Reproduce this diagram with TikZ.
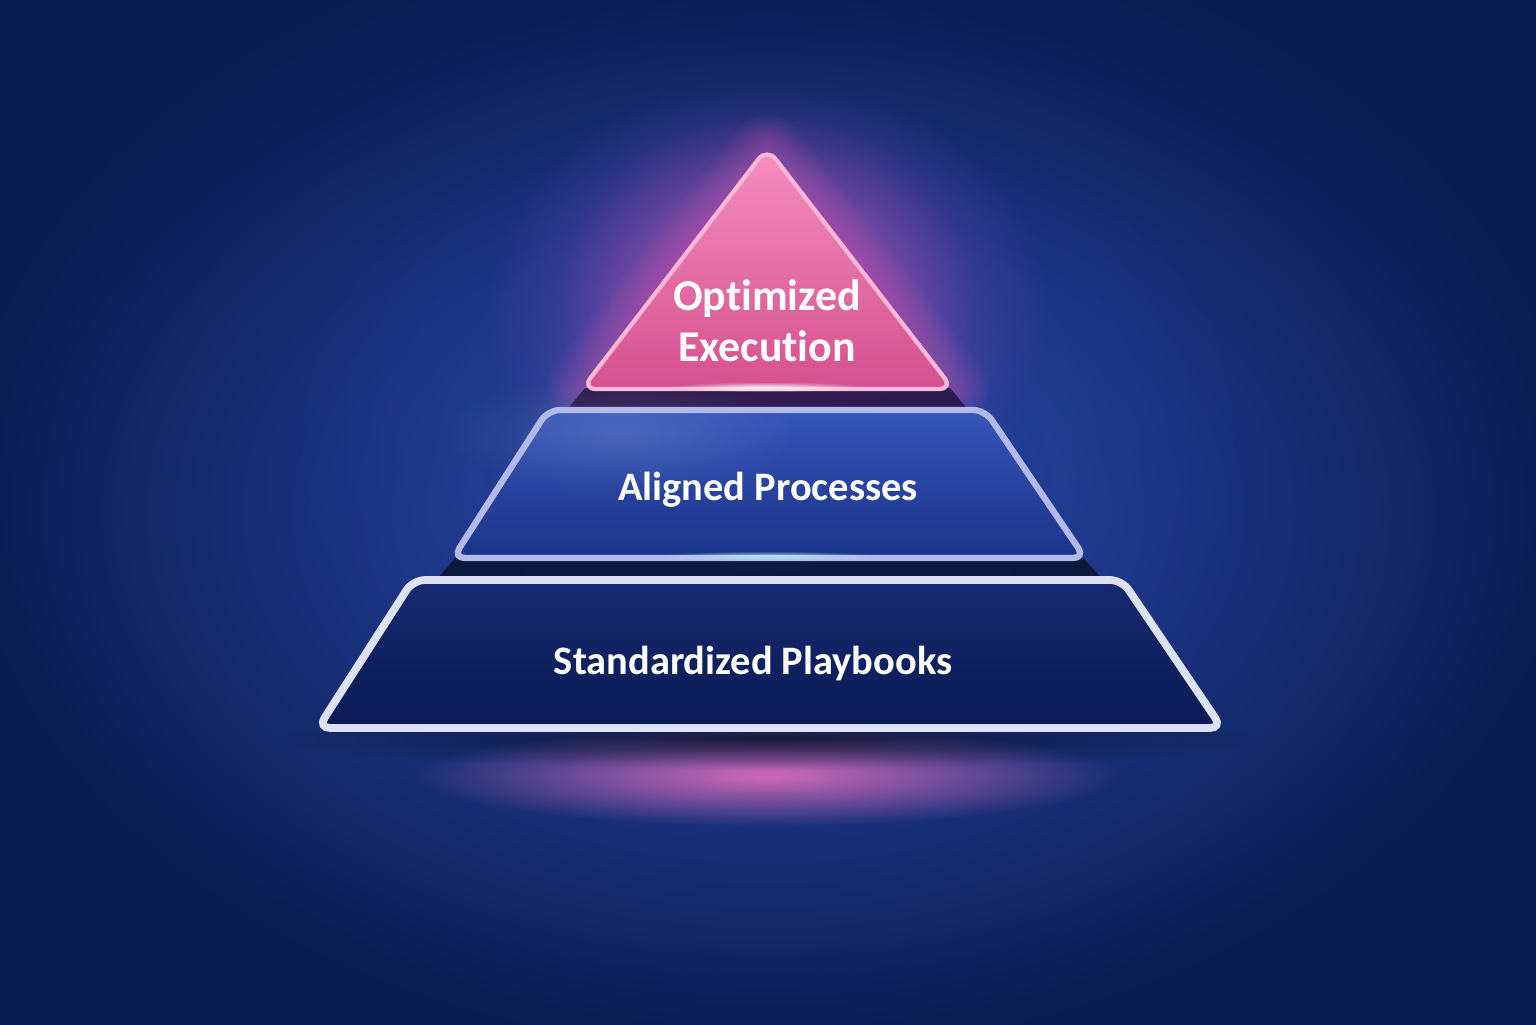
\documentclass[tikz,border=0pt]{standalone}
\usepackage{fontspec}
\setmainfont{Carlito}[Ligatures=NoCommon]
\usetikzlibrary{fadings}

\definecolor{bgInner}{HTML}{2C4BAE}
\definecolor{bgOuter}{HTML}{0A1D52}
\definecolor{bgMid}{HTML}{1A3585}
\definecolor{pinkTop}{HTML}{F68EC0}
\definecolor{pinkBot}{HTML}{D4508E}
\definecolor{pinkEdge}{HTML}{FFB8D8}
\definecolor{glowPink}{HTML}{E060B8}
\definecolor{glowViolet}{HTML}{8A4AB8}
\definecolor{midTop}{HTML}{3655B9}
\definecolor{midBot}{HTML}{1B3389}
\definecolor{midEdge}{HTML}{B2B9EC}
\definecolor{lowTop}{HTML}{142A70}
\definecolor{lowBot}{HTML}{0C1A55}
\definecolor{lowEdge}{HTML}{DDE1F6}
\definecolor{gapDark}{HTML}{241646}

\tikzfading[name=softglow, inner color=transparent!0, outer color=transparent!100]

\tikzset{
  layertext/.style={text=white, font=\bfseries\fontsize{11.5}{14}\selectfont, align=center},
  glow/.style={path fading=softglow, opacity=#1},
  glow/.default=0.6
}

\begin{document}
\begin{tikzpicture}
            \useasboundingbox (0,0) rectangle (15.36,10.24);
            % background
            \shade [inner color=bgInner, outer color=bgOuter] (0,0) rectangle (15.36,10.24);
            \fill [bgMid, glow=0.6] (7.68,5.4) ellipse (8.5 and 6.0);
            \fill [bgInner, glow=0.5] (7.68,5.8) ellipse (5.0 and 3.6);
            % glow round the top and under the base
            \fill [glowViolet, glow=0.85] (7.67,7.1) ellipse (2.8 and 2.4);
            \fill [glowPink, glow=0.6] (7.67,7.2) ellipse (2.1 and 1.9);
            \foreach \w in {2,4,...,22}
                \draw [glowPink, line width=\w pt, opacity=0.045, line join=round]
                    (7.67,8.70)-- (9.50,6.36)-- (5.85,6.36)-- cycle;
            \fill [glowPink!90!white, glow=0.9] (7.67,2.48) ellipse (3.5 and 0.5);
            % shadows between layers
            \fill [gapDark, opacity=0.9] (5.85,6.36)-- (9.50,6.36)-- (9.70,6.12)-- (5.65,6.12)-- cycle;
            \fill [black!70!midBot, opacity=0.8] (4.55,4.66)-- (10.83,4.66)-- (11.05,4.42)-- (4.35,4.42)-- cycle;
            \fill [black, glow=0.6] (7.70,2.85) ellipse (4.9 and 0.3);
            % bottom layer
            \shade [top color=lowTop, bottom color=lowBot, rounded corners=0.12cm]
                (4.13,4.44)-- (11.22,4.44)-- (12.22,2.96)-- (3.18,2.96)-- cycle;
            \draw [lowEdge, line width=2.2pt, rounded corners=0.12cm]
                (4.13,4.44)-- (11.22,4.44)-- (12.22,2.96)-- (3.18,2.96)-- cycle;
            % middle layer
            \shade [top color=midTop, bottom color=midBot, rounded corners=0.12cm]
                (5.48,6.14)-- (9.85,6.14)-- (10.85,4.66)-- (4.53,4.66)-- cycle;
            \fill [white, glow=0.12] (6.2,5.9) ellipse (1.8 and 0.6);
            \draw [midEdge, line width=1.8pt, rounded corners=0.12cm]
                (5.48,6.14)-- (9.85,6.14)-- (10.85,4.66)-- (4.53,4.66)-- cycle;
            \fill [cyan!30!white, glow=0.9] (7.67,4.68) ellipse (1.1 and 0.05);
            % top layer
            \shade [top color=pinkTop, bottom color=pinkBot, rounded corners=0.14cm]
                (7.67,8.76)-- (9.53,6.35)-- (5.82,6.35)-- cycle;
            \draw [pinkEdge, line width=1.2pt, rounded corners=0.14cm]
                (7.67,8.76)-- (9.53,6.35)-- (5.82,6.35)-- cycle;
            \fill [white, glow=0.9] (7.67,6.37) ellipse (1.0 and 0.05);
            % labels
            \node [layertext, font=\bfseries\fontsize{12.5}{14.5}\selectfont] (top) at (7.67,7.03) {Optimized\\Execution};
            \node [layertext] (mid) at (7.68,5.34) {Aligned Processes};
            \node [layertext] (low) at (7.53,3.61) {Standardized Playbooks};
        \end{tikzpicture}
\end{document}
